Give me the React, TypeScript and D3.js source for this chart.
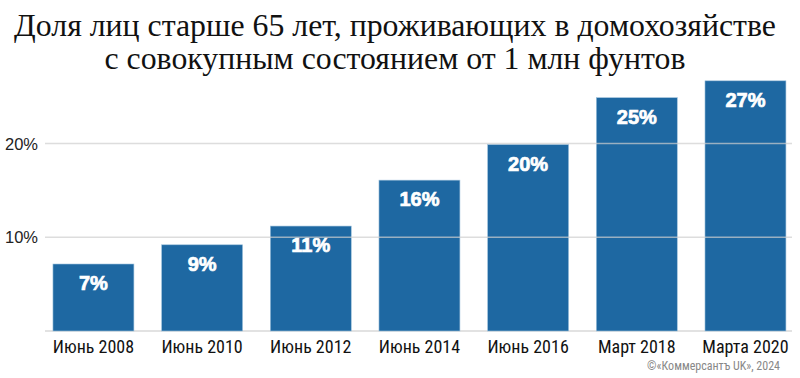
import React from "react";
import * as d3 from "d3";

const categories = ["Июнь 2008", "Июнь 2010", "Июнь 2012", "Июнь 2014", "Июнь 2016", "Март 2018", "Марта 2020"];
const values = [7.15, 9.2, 11.2, 16.1, 19.9, 24.9, 26.7];
const valueLabels = ["7%", "9%", "11%", "16%", "20%", "25%", "27%"];
const yTicks = [10, 20];
const titleLines = ["Доля лиц старше 65 лет, проживающих в домохозяйстве", "с совокупным состоянием от 1 млн фунтов"];
const source = "©«Коммерсантъ UK», 2024";

const W = 800;
const H = 378;

export default function App() {
  const x = d3.scaleBand<string>().domain(categories).range([39.1, 799.8]).paddingInner(0.255).paddingOuter(0.1275);
  const y = d3.scaleLinear().domain([0, 10]).range([331, 237.3]);
  const condensed = "'Liberation Sans Narrow', 'Roboto Condensed', 'Arial Narrow', sans-serif";
  return (
    <svg width={W} height={H} style={{ position: "absolute", left: 0, top: 0, background: "#fff" }}>
      {titleLines.map((t, i) => (
        <text key={i} x={395} y={36 + i * 33} textAnchor="middle" fontFamily="'Liberation Serif', 'DejaVu Serif', serif" fontSize={31.8} fill="#111">
          {t}
        </text>
      ))}
      <line x1={45} x2={792} y1={y(0)} y2={y(0)} stroke="#d9d9d9" strokeWidth={1.5} />
      {yTicks.map((t) => (
        <text key={t} x={38} y={y(t) + 6} textAnchor="end" fontFamily="'Liberation Sans', Arial, sans-serif" fontSize={16.5} fill="#222">
          {t}%
        </text>
      ))}
      {categories.map((c, i) => (
        <g key={c}>
          <rect x={x(c)} y={y(values[i])} width={x.bandwidth()} height={y(0) - y(values[i])} fill="#1e68a2" stroke="#9fc2dc" strokeWidth={0.6} />
          <text x={(x(c) as number) + x.bandwidth() / 2} y={y(values[i]) + 26} textAnchor="middle" fontFamily="'Liberation Sans', Arial, sans-serif" fontWeight="bold" fontSize={20} fill="#fff" stroke="#fff" strokeWidth={0.7}>
            {valueLabels[i]}
          </text>
          <text x={(x(c) as number) + x.bandwidth() / 2} y={353} textAnchor="middle" fontFamily={condensed} fontSize={18} fill="#111">
            {c}
          </text>
        </g>
      ))}
      {yTicks.map((t) => (
        <line key={t} x1={45} x2={792} y1={y(t)} y2={y(t)} stroke="#cfcfcf" strokeOpacity={0.7} strokeWidth={1.5} />
      ))}
      <text x={780} y={370} textAnchor="end" fontFamily={condensed} fontSize={12} fill="#888">
        {source}
      </text>
    </svg>
  );
}
